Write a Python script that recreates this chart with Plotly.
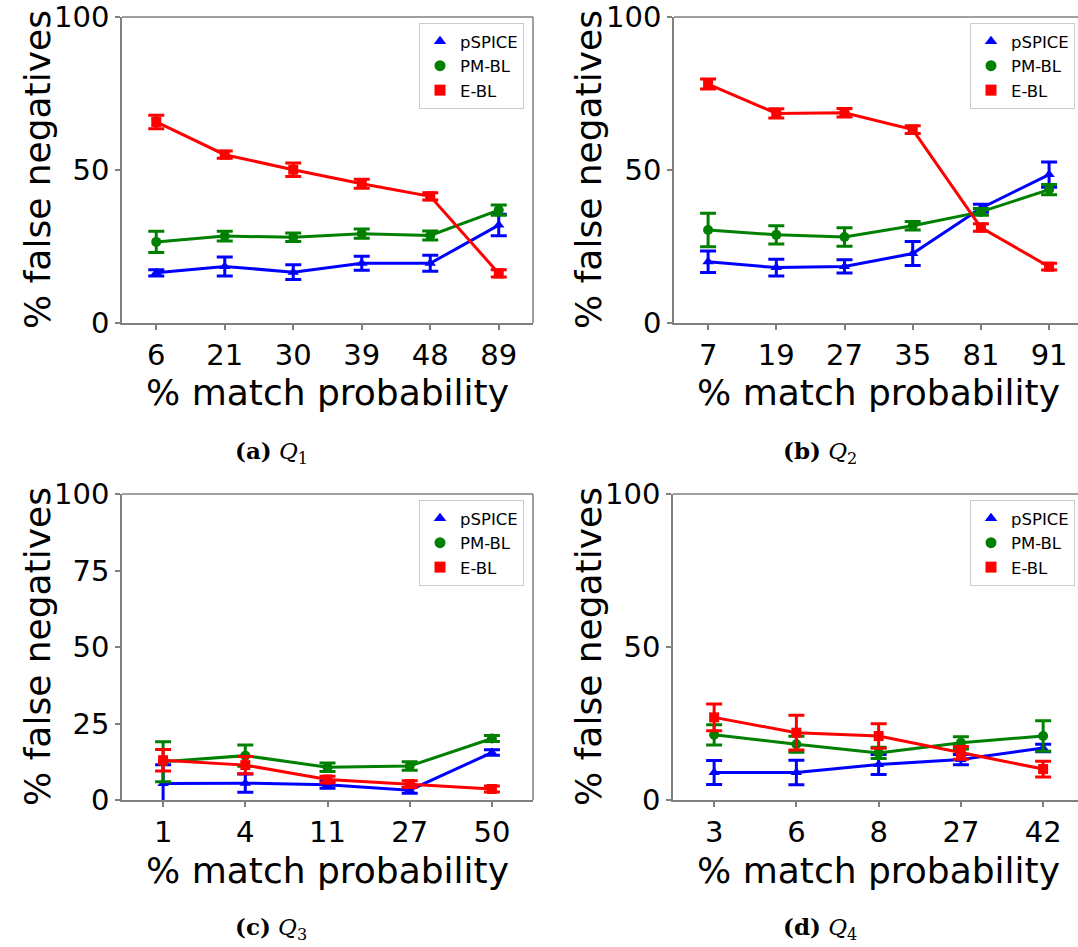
import plotly.graph_objects as go

W, H = 1078, 947

# ---------------- data ----------------
series_names = ["pSPICE", "PM-BL", "E-BL"]
series_colors = ["#0000ff", "#008000", "#ff0000"]
series_symbols = ["triangle-up", "circle", "square"]

q1_x = ["6", "21", "30", "39", "48", "89"]
q1_pspice = [16.4, 18.5, 16.6, 19.5, 19.5, 32.0]
q1_pspice_err = [1.0, 3.1, 2.4, 2.3, 2.6, 3.5]
q1_pmbl = [26.5, 28.4, 28.0, 29.2, 28.6, 36.9]
q1_pmbl_err = [3.5, 1.6, 1.4, 1.5, 1.5, 1.7]
q1_ebl = [65.7, 55.0, 50.1, 45.5, 41.4, 16.2]
q1_ebl_err = [2.2, 1.2, 2.2, 1.5, 1.2, 1.2]

q2_x = ["7", "19", "27", "35", "81", "91"]
q2_pspice = [20.0, 18.1, 18.5, 22.7, 37.5, 48.5]
q2_pspice_err = [3.5, 2.7, 2.2, 3.9, 1.3, 4.1]
q2_pmbl = [30.4, 28.8, 28.1, 31.8, 36.3, 43.6]
q2_pmbl_err = [5.5, 3.0, 3.0, 1.4, 1.1, 1.7]
q2_ebl = [78.1, 68.5, 68.7, 63.2, 31.2, 18.4]
q2_ebl_err = [1.6, 1.5, 1.4, 1.3, 1.2, 1.1]

q3_x = ["1", "4", "11", "27", "50"]
q3_pspice = [5.4, 5.5, 5.0, 3.2, 15.5]
q3_pspice_err = [6.1, 3.0, 1.2, 1.0, 0.9]
q3_pmbl = [12.5, 14.5, 10.7, 11.1, 20.1]
q3_pmbl_err = [6.5, 3.5, 1.4, 1.4, 1.0]
q3_ebl = [13.0, 11.4, 6.7, 5.2, 3.6]
q3_ebl_err = [3.5, 2.8, 1.1, 1.1, 1.0]

q4_x = ["3", "6", "8", "27", "42"]
q4_pspice = [9.0, 9.0, 11.6, 13.2, 17.0]
q4_pspice_err = [3.9, 4.0, 3.3, 1.7, 1.2]
q4_pmbl = [21.3, 18.2, 15.4, 18.7, 20.9]
q4_pmbl_err = [3.3, 2.6, 1.8, 2.0, 5.0]
q4_ebl = [27.0, 22.0, 20.9, 15.4, 10.1]
q4_ebl_err = [4.4, 5.7, 4.0, 2.1, 2.6]

y_ticks_abd = [0, 50, 100]
y_ticks_c = [0, 25, 50, 75, 100]

captions = [("a", "1"), ("b", "2"), ("c", "3"), ("d", "4")]
x_title = "% match probability"
y_title = "% false negatives"

panels = [
    (q1_x, [(q1_pspice, q1_pspice_err), (q1_pmbl, q1_pmbl_err), (q1_ebl, q1_ebl_err)], y_ticks_abd),
    (q2_x, [(q2_pspice, q2_pspice_err), (q2_pmbl, q2_pmbl_err), (q2_ebl, q2_ebl_err)], y_ticks_abd),
    (q3_x, [(q3_pspice, q3_pspice_err), (q3_pmbl, q3_pmbl_err), (q3_ebl, q3_ebl_err)], y_ticks_c),
    (q4_x, [(q4_pspice, q4_pspice_err), (q4_pmbl, q4_pmbl_err), (q4_ebl, q4_ebl_err)], y_ticks_abd),
]

# ---------------- layout geometry (pixels) ----------------
# (left, right, top, bottom, x-range max)
geom = [
    (122, 533, 17, 323, None),
    (674, 1078, 17, 323, (1078 - 674) / 68.2 - 0.5),
    (122, 533, 494, 800, None),
    (673, 1078, 494, 800, (1078 - 673) / 82.25 - 0.5),
]
right_cut = [False, True, False, True]

def px(x):
    return x / W

def py(y):
    return 1 - y / H

fig = go.Figure()
GRAY = "#808080"
FONT = "DejaVu Sans"

layout_axes = {}
shapes = []
annotations = []

for i, (cats, ser, yt) in enumerate(panels):
    k = i + 1
    xa = "x" if k == 1 else f"x{k}"
    ya = "y" if k == 1 else f"y{k}"
    lg = "legend" if k == 1 else f"legend{k}"
    for j, (vals, errs) in enumerate(ser):
        fig.add_trace(go.Scatter(
            x=cats, y=vals, xaxis=xa, yaxis=ya,
            mode="lines+markers",
            line=dict(color=series_colors[j], width=3),
            marker=dict(symbol=series_symbols[j], size=10, color=series_colors[j]),
            error_y=dict(type="data", array=errs, visible=True,
                         color=series_colors[j], thickness=3, width=8),
            showlegend=False, name=series_names[j], legend=lg,
        ))
    for j in range(3):
        fig.add_trace(go.Scatter(
            x=[None], y=[None], xaxis=xa, yaxis=ya, mode="markers",
            marker=dict(symbol=series_symbols[j], size=11, color=series_colors[j]),
            name=series_names[j], legend=lg, showlegend=True,
        ))

    l, r, t, b, xmax = geom[i]
    n = len(cats)
    xr = [-0.5, xmax if xmax is not None else n - 0.5]
    layout_axes[f"xaxis{'' if k == 1 else k}"] = dict(
        domain=[px(l), min(1.0, px(r))], anchor=ya, type="category",
        range=xr, showline=True, linecolor=GRAY, linewidth=1.5, automargin=False,
        mirror=False, ticks="outside", ticklen=5, tickwidth=1.5, tickcolor=GRAY,
        showgrid=False, zeroline=False,
        tickfont=dict(family=FONT, size=29, color="black"),
    )
    layout_axes[f"yaxis{'' if k == 1 else k}"] = dict(
        domain=[py(b), py(t)], anchor=xa, range=[0, 100], automargin=False,
        tickvals=yt, ticktext=[str(v) for v in yt],
        showline=True, linecolor=GRAY, linewidth=1.5, mirror=False,
        ticks="outside", ticklen=5, tickwidth=1.5, tickcolor=GRAY,
        showgrid=False, zeroline=False,
        tickfont=dict(family=FONT, size=29, color="black"),
    )
    # top spine
    shapes.append(dict(type="line", xref="paper", yref="paper",
                       x0=px(l), x1=min(1.0, px(r)), y0=py(t), y1=py(t),
                       line=dict(color=GRAY, width=1.5)))
    if not right_cut[i]:
        shapes.append(dict(type="line", xref="paper", yref="paper",
                           x0=px(r), x1=px(r), y0=py(b), y1=py(t),
                           line=dict(color=GRAY, width=1.5)))
    # legend
    legend_right = 524 if l < 300 else 1075
    layout_axes[lg] = dict(
        x=px(legend_right), xanchor="right", y=py(t + 6), yanchor="top",
        bgcolor="white", bordercolor="#cccccc", borderwidth=1,
        font=dict(family=FONT, size=16.5, color="black"),
        itemwidth=30,
    )

# axis titles and captions
col_cx = {0: 327, 1: 879}
ytitle_x = {0: 37, 1: 588}
for i in range(4):
    l, r, t, b, _ = geom[i]
    c = i % 2
    annotations.append(dict(text=x_title, xref="paper", yref="paper",
                            x=px(col_cx[c]), y=py(b + 70), xanchor="center", yanchor="middle",
                            showarrow=False, font=dict(family=FONT, size=36, color="black")))
    annotations.append(dict(text=y_title, xref="paper", yref="paper",
                            x=px(ytitle_x[c]), y=py((t + b) / 2), xanchor="center", yanchor="middle",
                            textangle=-90, showarrow=False,
                            font=dict(family=FONT, size=36, color="black")))
    letter, sub = captions[i]
    cap_x = 271 if c == 0 else 820
    cap_y = 452 if i < 2 else 928
    annotations.append(dict(text=f"<b>({letter})</b> <i>Q</i><sub>{sub}</sub>",
                            xref="paper", yref="paper", x=px(cap_x), y=py(cap_y),
                            xanchor="center", yanchor="middle", showarrow=False,
                            font=dict(family="DejaVu Serif", size=23, color="black")))

fig.update_layout(
    template="none",
    width=W, height=H, margin=dict(l=0, r=0, t=0, b=0, pad=0),
    paper_bgcolor="white", plot_bgcolor="white",
    shapes=shapes, annotations=annotations,
    **layout_axes,
)

fig.write_html("out.html")
